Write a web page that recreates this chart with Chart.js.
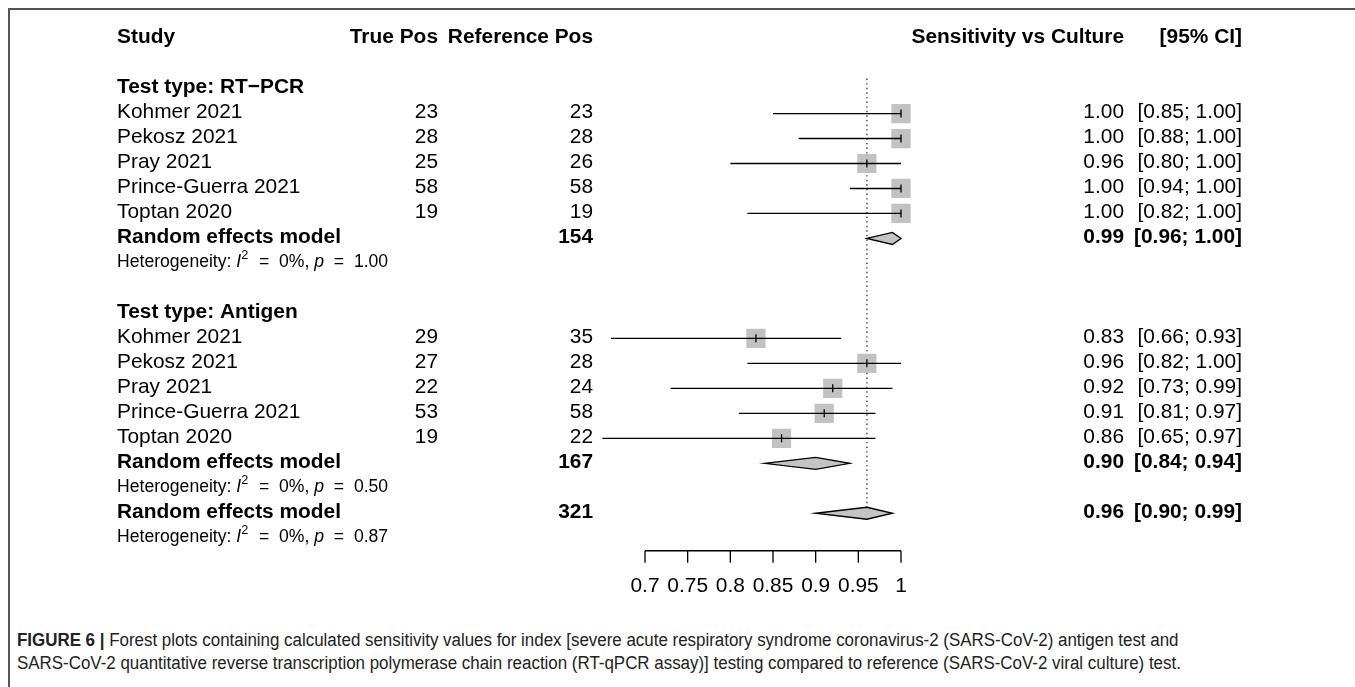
<!DOCTYPE html>
<html>
<head>
<meta charset="utf-8">
<script src="https://cdn.jsdelivr.net/npm/chart.js@4.4.1/dist/chart.umd.min.js"></script>
<style>
body{margin:0;background:#fff;width:1355px;height:687px;overflow:hidden;position:relative;}
#frame{position:absolute;left:8px;top:8px;width:1500px;height:800px;border-top:2px solid #555;border-left:2px solid #555;}
#plot{position:absolute;left:0;top:0;}
#caption{position:absolute;left:17px;top:629px;font-family:'Liberation Sans Narrow','Liberation Sans',Arial,sans-serif;font-size:18px;line-height:23px;white-space:nowrap;color:#222;transform:scaleX(0.94);transform-origin:0 0;}
</style>
</head>
<body>
<div id="frame"></div>
<canvas id="plot" width="1355" height="615"></canvas>
<div id="caption"><b>FIGURE 6 |</b> Forest plots containing calculated sensitivity values for index [severe acute respiratory syndrome coronavirus-2 (SARS-CoV-2) antigen test and<br>SARS-CoV-2 quantitative reverse transcription polymerase chain reaction (RT-qPCR assay)] testing compared to reference (SARS-CoV-2 viral culture) test.</div>
<script>
Chart.defaults.font.family = "'Liberation Sans', Arial, sans-serif";

// ---- data ----
const studies = ['Kohmer 2021', 'Pekosz 2021', 'Pray 2021', 'Prince-Guerra 2021', 'Toptan 2020'];

const pcr_true_pos = [23, 28, 25, 58, 19];
const pcr_ref_pos  = [23, 28, 26, 58, 19];
const pcr_sens     = [1.00, 1.00, 0.96, 1.00, 1.00];
const pcr_lower    = [0.85, 0.88, 0.80, 0.94, 0.82];
const pcr_upper    = [1.00, 1.00, 1.00, 1.00, 1.00];

const ag_true_pos = [29, 27, 22, 53, 19];
const ag_ref_pos  = [35, 28, 24, 58, 22];
const ag_sens     = [0.83, 0.96, 0.92, 0.91, 0.86];
const ag_lower    = [0.66, 0.82, 0.73, 0.81, 0.65];
const ag_upper    = [0.93, 1.00, 0.99, 0.97, 0.97];

// pooled: [estimate, lower, upper]
const pcr_pooled = [0.99, 0.96, 1.00];
const ag_pooled  = [0.90, 0.84, 0.94];
const all_pooled = [0.96, 0.90, 0.99];
const pooled_ref_pos = [154, 167, 321];
const het_i2 = ['0%', '0%', '0%'];
const het_p  = ['1.00', '0.50', '0.87'];

const x_ticks = [0.7, 0.75, 0.8, 0.85, 0.9, 0.95, 1];
const x_tick_labels = ['0.7', '0.75', '0.8', '0.85', '0.9', '0.95', '1'];

// ---- row layout (one unit = one text line) ----
const ROW_HEAD = 0;
const ROW_PCR = 2;      // group header, studies follow
const ROW_AG = 11;
const ROW_ALL = 19;
const ROW_AXIS = 20.5;
const ROW_TICKLAB = 21.95;

const COL_STUDY = 117;
const COL_TP = 438;
const COL_RP = 593;
const COL_EST = 1124;
const COL_CI = 1242;

const FONT = "'Liberation Sans', Arial, sans-serif";
const SIZE = 20.9;
const TEXT_SHIFT = -1;

function fmt(v) { return v.toFixed(2); }
function ci(lo, hi) { return '[' + fmt(lo) + '; ' + fmt(hi) + ']'; }

let boxes = [];
studies.forEach((s, i) => boxes.push({x: pcr_sens[i], y: ROW_PCR + 1 + i}));
studies.forEach((s, i) => boxes.push({x: ag_sens[i], y: ROW_AG + 1 + i}));

function text(ctx, str, x, y, align, bold, size) {
    ctx.font = (bold ? 'bold ' : '') + (size || SIZE) + 'px ' + FONT;
    ctx.textAlign = align || 'left';
    ctx.textBaseline = 'middle';
    ctx.fillStyle = '#000';
    ctx.fillText(str, x, y + TEXT_SHIFT);
}

function heterogeneity(ctx, y, i2, p) {
    const sz = 17.6;
    const parts = [
        ['Heterogeneity: ', ''], ['I', 'italic'], ['2', 'sup'], ['  =  ' + i2 + ', ', ''],
        ['p', 'italic'], ['  =  ' + p, '']
    ];
    let x = COL_STUDY;
    ctx.textAlign = 'left';
    ctx.textBaseline = 'middle';
    ctx.fillStyle = '#000';
    parts.forEach(([t, st]) => {
        let yy = y + TEXT_SHIFT;
        if (st == 'sup') {
            ctx.font = (sz * 0.72) + 'px ' + FONT;
            yy -= 7;
        } else {
            ctx.font = (st == 'italic' ? 'italic ' : '') + sz + 'px ' + FONT;
        }
        ctx.fillText(t, x, yy);
        x += ctx.measureText(t).width + (st == 'sup' ? 1 : 0);
    });
}

function diamond(ctx, xs, ys, row, est) {
    const yc = ys.getPixelForValue(row);
    ctx.beginPath();
    ctx.moveTo(xs.getPixelForValue(est[1]), yc);
    ctx.lineTo(xs.getPixelForValue(est[0]), yc - 6);
    ctx.lineTo(xs.getPixelForValue(est[2]), yc);
    ctx.lineTo(xs.getPixelForValue(est[0]), yc + 6);
    ctx.closePath();
    ctx.fillStyle = '#c4c4c4';
    ctx.fill();
    ctx.strokeStyle = '#000';
    ctx.lineWidth = 1.3;
    ctx.stroke();
}

const forestPlugin = {
    id: 'forest',
    beforeDatasetsDraw(chart) {
        const {ctx, scales: {x, y}} = chart;
        ctx.save();
        ctx.strokeStyle = '#333';
        ctx.lineWidth = 1.3;
        ctx.setLineDash([1.4, 3.2]);
        ctx.beginPath();
        const xp = x.getPixelForValue(all_pooled[0]);
        ctx.moveTo(xp, y.getPixelForValue(ROW_PCR - 0.4));
        ctx.lineTo(xp, y.getPixelForValue(ROW_ALL) - 6);
        ctx.stroke();
        ctx.restore();
    },
    afterDatasetsDraw(chart) {
        const {ctx, scales: {x, y}} = chart;
        ctx.save();

        // confidence intervals + estimate marks
        const groups = [
            [ROW_PCR, pcr_sens, pcr_lower, pcr_upper],
            [ROW_AG, ag_sens, ag_lower, ag_upper]
        ];
        ctx.strokeStyle = '#000';
        ctx.lineWidth = 1.3;
        groups.forEach(([r0, est, lo, hi]) => {
            est.forEach((v, i) => {
                const yc = y.getPixelForValue(r0 + 1 + i);
                ctx.beginPath();
                ctx.moveTo(x.getPixelForValue(lo[i]), yc);
                ctx.lineTo(x.getPixelForValue(hi[i]), yc);
                ctx.moveTo(x.getPixelForValue(v), yc - 4);
                ctx.lineTo(x.getPixelForValue(v), yc + 4);
                ctx.stroke();
            });
        });

        diamond(ctx, x, y, ROW_PCR + 6, pcr_pooled);
        diamond(ctx, x, y, ROW_AG + 6, ag_pooled);
        diamond(ctx, x, y, ROW_ALL, all_pooled);

        // bottom axis, only across the tick range
        const ya = y.getPixelForValue(ROW_AXIS);
        ctx.strokeStyle = '#000';
        ctx.lineWidth = 1.3;
        ctx.beginPath();
        ctx.moveTo(x.getPixelForValue(x_ticks[0]), ya);
        ctx.lineTo(x.getPixelForValue(x_ticks[x_ticks.length - 1]), ya);
        x_ticks.forEach(t => {
            ctx.moveTo(x.getPixelForValue(t), ya);
            ctx.lineTo(x.getPixelForValue(t), ya + 12);
        });
        ctx.stroke();
        x_ticks.forEach((t, i) => {
            text(ctx, x_tick_labels[i], x.getPixelForValue(t), y.getPixelForValue(ROW_TICKLAB), 'center', false);
        });

        // table text
        const yh = y.getPixelForValue(ROW_HEAD);
        text(ctx, 'Study', COL_STUDY, yh, 'left', true);
        text(ctx, 'True Pos', COL_TP, yh, 'right', true);
        text(ctx, 'Reference Pos', COL_RP, yh, 'right', true);
        text(ctx, 'Sensitivity vs Culture', COL_EST, yh, 'right', true);
        text(ctx, '[95% CI]', COL_CI, yh, 'right', true);

        const tables = [
            [ROW_PCR, 'Test type: RT\u2212PCR', pcr_true_pos, pcr_ref_pos, pcr_sens, pcr_lower, pcr_upper, pcr_pooled, 0],
            [ROW_AG, 'Test type: Antigen', ag_true_pos, ag_ref_pos, ag_sens, ag_lower, ag_upper, ag_pooled, 1]
        ];
        tables.forEach(([r0, title, tp, rp, est, lo, hi, pooled, k]) => {
            text(ctx, title, COL_STUDY, y.getPixelForValue(r0), 'left', true);
            studies.forEach((s, i) => {
                const yc = y.getPixelForValue(r0 + 1 + i);
                text(ctx, s, COL_STUDY, yc, 'left', false);
                text(ctx, String(tp[i]), COL_TP, yc, 'right', false);
                text(ctx, String(rp[i]), COL_RP, yc, 'right', false);
                text(ctx, fmt(est[i]), COL_EST, yc, 'right', false);
                text(ctx, ci(lo[i], hi[i]), COL_CI, yc, 'right', false);
            });
            const yp = y.getPixelForValue(r0 + 6);
            text(ctx, 'Random effects model', COL_STUDY, yp, 'left', true);
            text(ctx, String(pooled_ref_pos[k]), COL_RP, yp, 'right', true);
            text(ctx, fmt(pooled[0]), COL_EST, yp, 'right', true);
            text(ctx, ci(pooled[1], pooled[2]), COL_CI, yp, 'right', true);
            heterogeneity(ctx, y.getPixelForValue(r0 + 7), het_i2[k], het_p[k]);
        });

        const yo = y.getPixelForValue(ROW_ALL);
        text(ctx, 'Random effects model', COL_STUDY, yo, 'left', true);
        text(ctx, String(pooled_ref_pos[2]), COL_RP, yo, 'right', true);
        text(ctx, fmt(all_pooled[0]), COL_EST, yo, 'right', true);
        text(ctx, ci(all_pooled[1], all_pooled[2]), COL_CI, yo, 'right', true);
        heterogeneity(ctx, y.getPixelForValue(ROW_ALL + 1), het_i2[2], het_p[2]);

        ctx.restore();
    }
};

// x: 0.7 -> 645px, 1 -> 901px ; y: row r -> 33.8 + 25.2 r
const ctx = document.getElementById('plot');
const forest = new Chart(ctx, {
    type: 'scatter',
    data: {
        datasets: [{
            data: boxes,
            pointStyle: 'rect',
            pointRadius: 13.6,
            pointHoverRadius: 13.6,
            backgroundColor: '#c2c2c2',
            borderWidth: 0,
        }]
    },
    options: {
        responsive: false,
        animation: false,
        events: [],
        layout: {padding: {left: 559.67, right: 411.33, top: 8.6, bottom: 26.8}},
        plugins: {legend: {display: false}, tooltip: {enabled: false}},
        scales: {
            x: {type: 'linear', min: 0.6, max: 1.05, display: false},
            y: {type: 'linear', min: -1, max: 22, reverse: true, display: false}
        }
    },
    plugins: [forestPlugin]
});
</script>
</body>
</html>
